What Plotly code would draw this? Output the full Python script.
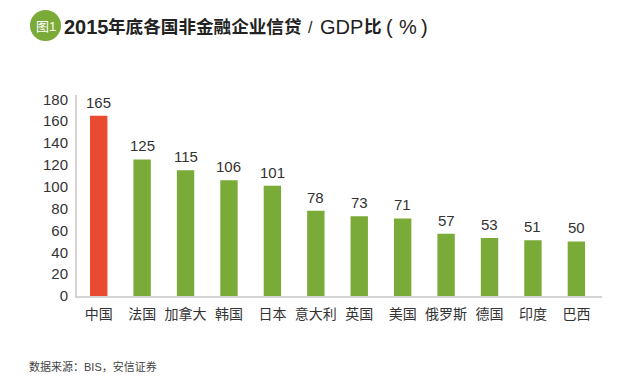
import plotly.graph_objects as go

categories = ["中国", "法国", "加拿大", "韩国", "日本", "意大利", "英国", "美国", "俄罗斯", "德国", "印度", "巴西"]
values = [165, 125, 115, 106, 101, 78, 73, 71, 57, 53, 51, 50]
highlight = "中国"
tick_values = [0, 20, 40, 60, 80, 100, 120, 140, 160, 180]
badge_text = "图1"
source_text = "数据来源：BIS，安信证券"
# title pieces: text, left pixel, font size, bold
title_parts = [
    ("2015", 64, 20, True),
    ("年底各国非金融企业信贷", 108, 17.6, True),
    ("/", 308, 16, False),
    ("GDP", 320, 20, False),
    ("比", 364, 17.6, True),
    ("(", 386, 20, False),
    ("%", 399, 20, False),
    (")", 421, 20, False),
]

W, H = 618, 383
L, R, T, B = 77, 16, 95, 87
FONT = "Liberation Sans, Noto Sans CJK SC, sans-serif"
GREEN = "#7aaa37"
RED = "#e94a30"

colors = [RED if c == highlight else GREEN for c in categories]

fig = go.Figure(go.Bar(
    x=categories, y=values,
    marker=dict(color=colors, line=dict(width=0)),
    width=0.4,
))


def px(x):
    return (x - L) / (W - L - R)


def py(y):
    return 1 - (y - T) / (H - T - B)


for c, v in zip(categories, values):
    fig.add_annotation(x=c, y=v, text=str(v), showarrow=False, yanchor="bottom", yshift=3,
                       font=dict(size=15, color="#333333", family=FONT))

fig.add_shape(type="circle", xref="paper", yref="paper",
              x0=px(30), x1=px(61), y0=py(41), y1=py(10),
              fillcolor=GREEN, line=dict(width=0))
fig.add_annotation(text=badge_text, xref="paper", yref="paper", x=px(45.5), y=py(26),
                   showarrow=False, xanchor="center", yanchor="middle",
                   font=dict(size=13, color="#ffffff", family=FONT))
for text, left, size, bold in title_parts:
    fig.add_annotation(text=f"<b>{text}</b>" if bold else text,
                       xref="paper", yref="paper", x=px(left - 2), y=py(27),
                       showarrow=False, xanchor="left", yanchor="middle",
                       font=dict(size=size, color="#222222", family=FONT))
fig.add_annotation(text=source_text, xref="paper", yref="paper", x=px(27), y=py(366),
                   showarrow=False, xanchor="left", yanchor="middle",
                   font=dict(size=11, color="#444444", family=FONT))

fig.update_layout(
    width=W, height=H, autosize=False,
    margin=dict(l=L, r=R, t=T, b=B, pad=0),
    paper_bgcolor="white", plot_bgcolor="white",
    showlegend=False, bargap=0.6,
    font=dict(family=FONT),
)
fig.update_xaxes(
    type="category", categoryorder="array", categoryarray=categories,
    range=[-0.5, 11.59],
    showline=True, linecolor="#d4d4d4", linewidth=2, ticks="",
    showgrid=False, tickfont=dict(size=14, color="#333333", family=FONT),
    ticklabelstandoff=4,
)
fig.update_yaxes(
    range=[0, 184], tickvals=tick_values, showline=True, linecolor="#d4d4d4",
    linewidth=2, ticks="", showgrid=False, zeroline=False,
    tickfont=dict(size=15, color="#333333", family=FONT),
    ticklabelstandoff=4,
)

fig.write_html("out.html", config=dict(displayModeBar=False),
               post_script="document.body.style.margin='0';")
